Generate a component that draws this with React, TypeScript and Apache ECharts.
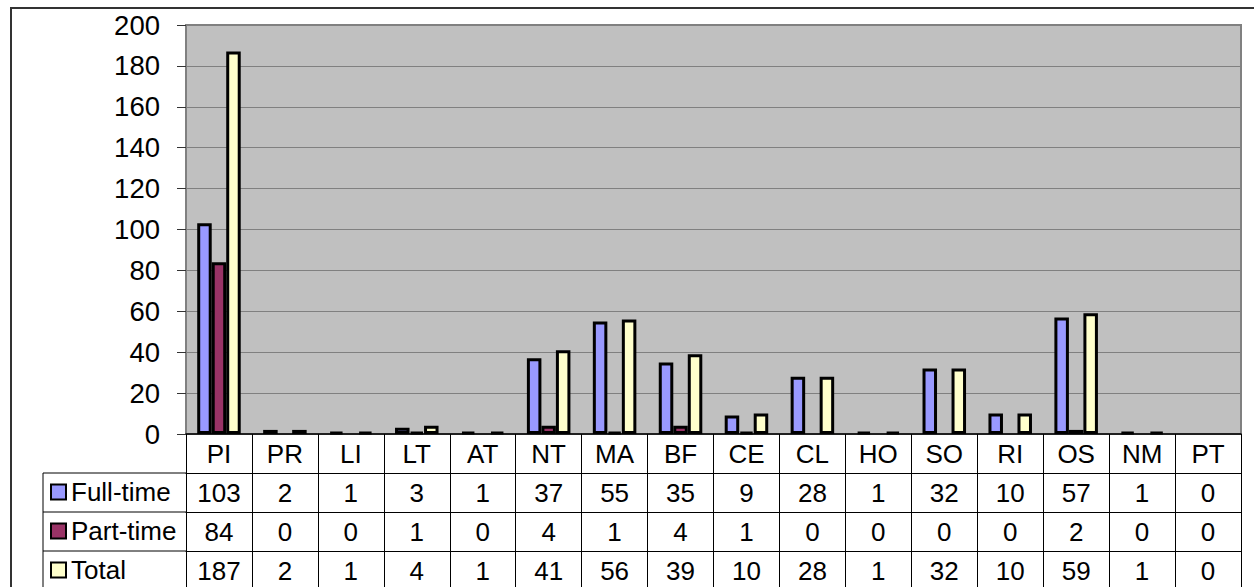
import React, { useEffect, useRef } from "react";
import * as echarts from "echarts";

const categories = ["PI", "PR", "LI", "LT", "AT", "NT", "MA", "BF", "CE", "CL", "HO", "SO", "RI", "OS", "NM", "PT"];
const fullTime = [103, 2, 1, 3, 1, 37, 55, 35, 9, 28, 1, 32, 10, 57, 1, 0];
const partTime = [84, 0, 0, 1, 0, 4, 1, 4, 1, 0, 0, 0, 0, 2, 0, 0];
const total = [187, 2, 1, 4, 1, 41, 56, 39, 10, 28, 1, 32, 10, 59, 1, 0];
const seriesNames = ["Full-time", "Part-time", "Total"];
const seriesColors = ["#9999FF", "#993366", "#FFFFCC"];
const yTicks = { min: 0, max: 200, interval: 20 };

const W = 1254;
const H = 587;
const GRID_LEFT = 186;
const GRID_TOP = 25;
const GRID_RIGHT = 1241;
const GRID_BOTTOM = 434;
const ROW_H = 39;
const TABLE_LEFT = 43;
const FONT = "'Liberation Sans', Arial, sans-serif";
const FS = 26;

export default function App() {
  const ref = useRef<HTMLDivElement>(null);
  useEffect(() => {
    if (!ref.current) return;
    const chart = echarts.init(ref.current, null, { renderer: "svg" });
    const rows = [fullTime, partTime, total];
    const barData = rows.map((r) => r.map((v) => (v === 0 ? null : v)));

    const xAxes: any[] = [
      {
        type: "category",
        data: categories,
        position: "bottom",
        gridIndex: 0,
        axisLine: { show: true, lineStyle: { color: "#000", width: 1.5 } },
        axisTick: { show: true, length: H - GRID_BOTTOM + 5, lineStyle: { color: "#000", width: 1 } },
        axisLabel: { color: "#000", fontSize: FS, fontFamily: FONT, margin: 7, interval: 0 },
        splitLine: { show: false },
      },
    ];
    rows.forEach((r, i) => {
      xAxes.push({
        type: "category",
        data: r.map((v) => String(v)),
        position: "bottom",
        offset: ROW_H * (i + 1),
        gridIndex: 0,
        axisLine: { show: true, lineStyle: { color: "#000", width: 1 } },
        axisTick: { show: false },
        axisLabel: { color: "#000", fontSize: FS, fontFamily: FONT, margin: 7, interval: 0 },
        splitLine: { show: false },
      });
    });

    const lineStyle = { stroke: "#000", lineWidth: 1 };
    const graphics: any[] = [
      {
        type: "rect",
        shape: { x: 11, y: 8, width: W + 20, height: H + 20 },
        style: { fill: "none", stroke: "#333", lineWidth: 2 },
        silent: true,
        z: 100,
      },
      {
        type: "line",
        shape: { x1: TABLE_LEFT, y1: GRID_BOTTOM + ROW_H, x2: TABLE_LEFT, y2: H + 5 },
        style: lineStyle,
      },
    ];
    for (let i = 1; i <= 3; i++) {
      graphics.push({
        type: "line",
        shape: { x1: TABLE_LEFT, y1: GRID_BOTTOM + ROW_H * i, x2: GRID_LEFT, y2: GRID_BOTTOM + ROW_H * i },
        style: lineStyle,
      });
    }

    chart.setOption({
      animation: false,
      backgroundColor: "#fff",
      textStyle: { fontFamily: FONT },
      grid: {
        left: GRID_LEFT,
        top: GRID_TOP,
        width: GRID_RIGHT - GRID_LEFT,
        height: GRID_BOTTOM - GRID_TOP,
        show: true,
        backgroundColor: "#C0C0C0",
        borderColor: "#808080",
        borderWidth: 2,
        containLabel: false,
      },
      legend: {
        orient: "vertical",
        left: 50,
        top: GRID_BOTTOM + ROW_H + 4,
        padding: 0,
        itemGap: 9,
        itemWidth: 15,
        itemHeight: 15,
        icon: "rect",
        selectedMode: false,
        data: seriesNames,
        textStyle: { color: "#000", fontSize: FS, fontFamily: FONT, lineHeight: 30 },
        itemStyle: { borderColor: "#000", borderWidth: 2 },
      },
      xAxis: xAxes,
      yAxis: {
        type: "value",
        min: yTicks.min,
        max: yTicks.max,
        interval: yTicks.interval,
        axisLine: { show: true, lineStyle: { color: "#808080", width: 2 } },
        axisTick: { show: true, length: 9, lineStyle: { color: "#333", width: 1 } },
        axisLabel: { color: "#000", fontSize: 27.5, fontFamily: FONT, margin: 26 },
        splitLine: { show: true, lineStyle: { color: "#808080", width: 1 } },
      },
      series: seriesNames.map((name, i) => ({
        name,
        type: "bar",
        xAxisIndex: 0,
        data: barData[i],
        barGap: "0%",
        barCategoryGap: "34%",
        itemStyle: { color: seriesColors[i], borderColor: "#000", borderWidth: 3 },
      })),
      graphic: graphics,
    });
    return () => chart.dispose();
  }, []);
  return (
    <div
      ref={ref}
      style={{ position: "fixed", left: 0, top: 0, width: W, height: H }}
    />
  );
}
